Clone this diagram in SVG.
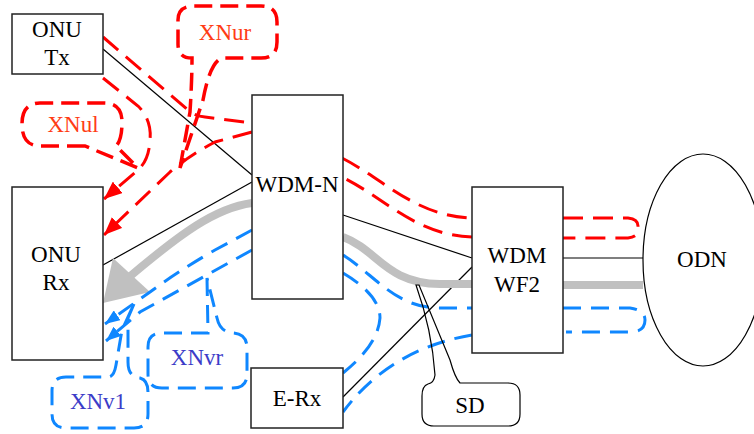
<svg xmlns="http://www.w3.org/2000/svg" width="754" height="434" viewBox="0 0 754 434" font-family="'Liberation Serif', 'Times New Roman', serif">
<defs>
<style>
.box{fill:#fff;stroke:#222;stroke-width:1.5}
.lbl{font-family:'Liberation Serif','Times New Roman',serif;font-size:23px;text-anchor:middle;fill:#000}
.rlbl{fill:#ff3c14}
.blbl{fill:#3c3cc8}
.blk{fill:none;stroke:#000;stroke-width:1.2}
.gray{fill:none;stroke:#c0c0c0;stroke-width:8}
.red{fill:none;stroke:#ff0000;stroke-width:3;stroke-dasharray:20 10}
.blue{fill:none;stroke:#0f87ff;stroke-width:3;stroke-dasharray:18 10}
.cored{fill:none;stroke:#ff0000;stroke-width:3.5;stroke-dasharray:18 8}
.coblue{fill:none;stroke:#0f87ff;stroke-width:3;stroke-dasharray:18 9}
.cosd{fill:none;stroke:#000;stroke-width:1.2}
</style>
<marker id="ar" markerUnits="userSpaceOnUse" markerWidth="18" markerHeight="15" refX="18" refY="7.5" orient="auto">
<path d="M0,0 L18,7.5 L0,15 z" fill="#ff0000"/>
</marker>
<marker id="ab" markerUnits="userSpaceOnUse" markerWidth="15" markerHeight="12" refX="15" refY="6" orient="auto">
<path d="M0,0 L15,6 L0,12 z" fill="#0f87ff"/>
</marker>
</defs>
<rect width="754" height="434" fill="#fff"/>

<g id="connectors">
<line class="blk" x1="103" y1="49" x2="252" y2="175"/>
<line class="blk" x1="103" y1="265" x2="252" y2="182"/>
<line class="blk" x1="343" y1="215" x2="472" y2="258"/>
<line class="blk" x1="343" y1="397" x2="472" y2="267"/>
<line class="blk" x1="563" y1="258" x2="643" y2="258"/>
<path class="gray" d="M643,285 L563,285"/>
<path class="gray" d="M472,284 L440,284 C385,283 378,250 343,237"/>
<path class="gray" d="M252,203 C215,208 180,234 128,278"/>
<polygon points="103,303 113,258 150,292" fill="#c0c0c0"/>
<path class="red" d="M103,37 L188,110 Q195,116 205,117 L252,123"/>
<path class="red" d="M342,158 C385,180 415,216 472,218"/>
<path class="red" d="M563,218 H628 Q638,219 638,226 V230 Q638,237 628,238 H563"/>
<path class="red" d="M472,237 C415,235 385,198 342,177"/>
<path class="red" d="M252,132 L215,142 Q190,155 170,172 L104,235" marker-end="url(#ar)"/>
<path class="red" d="M103,78 L138,106 Q152,120 150,140 Q149,160 138,170 L104,199" marker-end="url(#ar)"/>
<path class="blue" d="M343,255 C375,275 395,308 440,308 L472,308"/>
<path class="blue" d="M563,308 H630 Q645,310 645,320 Q645,332 630,332 H566"/>
<path class="blue" d="M472,335 C430,342 380,362 343,412"/>
<path class="blue" d="M343,273 Q380,295 380,318 Q378,345 343,373"/>
<path class="blue" d="M252,230 L215,250 Q180,270 150,292 L105,324" marker-end="url(#ab)"/>
<path class="blue" d="M252,250 L140,312 L106,341" marker-end="url(#ab)"/>
</g>

<g id="onu-tx">
<rect class="box" x="12" y="14" width="91" height="60"/>
<text class="lbl" x="57" y="37">ONU</text>
<text class="lbl" x="57" y="65">Tx</text>
</g>
<g id="onu-rx">
<rect class="box" x="12" y="187" width="91" height="173"/>
<text class="lbl" x="56" y="262">ONU</text>
<text class="lbl" x="56" y="290">Rx</text>
</g>
<g id="wdm-n">
<rect class="box" x="252" y="95" width="91" height="204"/>
<text class="lbl" x="297" y="192">WDM-N</text>
</g>
<g id="wdm-wf2">
<rect class="box" x="472" y="187" width="91" height="166"/>
<text class="lbl" x="517" y="263">WDM</text>
<text class="lbl" x="517" y="292">WF2</text>
</g>
<g id="e-rx">
<rect class="box" x="251" y="368" width="92" height="60"/>
<text class="lbl" x="297" y="406">E-Rx</text>
</g>
<g id="odn">
<ellipse cx="703" cy="260" rx="60" ry="106" fill="#fff" stroke="#000" stroke-width="1.2"/>
<text class="lbl" x="702" y="267">ODN</text>
</g>

<g id="callout-xnur">
<path class="cored" d="M180,168 L190,112 Q192,80 192,58 Q178,58 178,44 V20 Q178,6 194,6 H261 Q277,6 277,22 V42 Q277,58 261,58 H222 Q210,62 203,100 Z"/>
<text class="lbl rlbl" x="225" y="40">XNur</text>
</g>
<g id="callout-xnul">
<path class="cored" d="M85,146 H40 Q22,146 22,124 Q22,103 40,103 H104 Q122,103 122,122 Q122,140 116,146 L138,168 Z"/>
<text class="lbl rlbl" x="73" y="132">XNul</text>
</g>
<g id="callout-xnvr">
<path class="coblue" d="M207,278 L208,333 H162 Q148,333 148,347 V374 Q148,388 162,388 H233 Q247,388 247,374 V348 Q247,334 233,333 Q220,332 217,318 Z"/>
<text class="lbl blbl" x="197" y="365">XNvr</text>
</g>
<g id="callout-xnv1">
<path class="coblue" d="M134,304 L128,318 V362 Q128,377 140,378 Q148,380 148,392 V414 Q148,428 134,428 H66 Q52,428 52,414 V391 Q52,377 66,377 H108 Q114,377 116,365 L122,330 Z"/>
<text class="lbl blbl" x="98" y="409">XNv1</text>
</g>
<g id="callout-sd">
<path class="cosd" d="M416,285 Q432,330 435,375 Q434,383 428,384 Q422,386 422,396 V414 Q422,426 434,426 H508 Q520,426 520,414 V395 Q520,383 508,383 H460 Q455,378 450,360 L419,285 Z"/>
<text class="lbl" x="470" y="413">SD</text>
</g>
</svg>
